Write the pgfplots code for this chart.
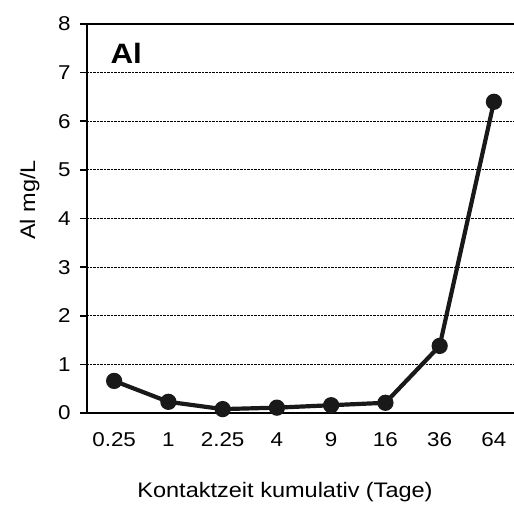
\documentclass[border=0pt]{standalone}
\usepackage{fontspec}
\setmainfont{Liberation Sans}
\newfontfamily\widesans[FakeStretch=1.12]{Liberation Sans}
\usepackage{pgfplots}
\pgfplotsset{compat=1.18}
\newcommand\tickfont{\widesans\fontsize{20pt}{22pt}\selectfont}
\newcommand\lblfont{\widesans\fontsize{21pt}{24pt}\selectfont}
\begin{document}
\begin{tikzpicture}
\begin{axis}[
    name=ax,
    scale only axis,
    width=427pt, height=389pt,
    xmin=-0.5, xmax=7.37,
    ymin=0, ymax=8,
    axis lines=left,
    axis line style={-, line width=1.6pt, black},
    tick align=outside,
    major tick length=7pt,
    every tick/.style={black, line width=1.6pt},
    xtick={0,...,7},
    xticklabels={0.25,1,2.25,4,9,16,36,64},
    x tick style={draw=none},
    extra x ticks={-0.5,0.5,...,6.5},
    extra x tick labels={},
    extra x tick style={tick style={black, line width=1.6pt}},
    ytick={0,...,8},
    ymajorgrids,
    major grid style={densely dotted, line width=1.2pt, black},
    /pgf/number format/assume math mode=true,
    every tick label/.append style={font=\tickfont},
    xticklabel style={yshift=-9pt},
    yticklabel style={xshift=-6pt},
    xlabel={Kontaktzeit kumulativ\hspace{0.3em}(Tage)},
    ylabel={Al mg/L},
    every axis label/.append style={font=\lblfont},
    xlabel style={at={([yshift=-85pt]rel axis cs:0.4637,0)}, anchor=base},
    ylabel style={at={([xshift=-44pt]rel axis cs:0,0.548)}, anchor=south},
    clip=false,
]
\draw[line width=1.6pt, black] (rel axis cs:0,1) -- (rel axis cs:1,1);
\addplot[line width=4.2pt, color=black!90, mark=*, mark size=6pt] coordinates {
    (0,0.66) (1,0.23) (2,0.08) (3,0.11) (4,0.16) (5,0.21) (6,1.38) (7,6.40)
};
\node[anchor=base west, font=\widesans\fontsize{28pt}{30pt}\selectfont\bfseries] at ([xshift=20pt,yshift=-39pt]rel axis cs:0,1) {Al};
\end{axis}
\pgfresetboundingbox
\path (ax.south west) ++(-87pt,-92pt) rectangle ++(514pt,505pt);
\end{tikzpicture}
\end{document}
